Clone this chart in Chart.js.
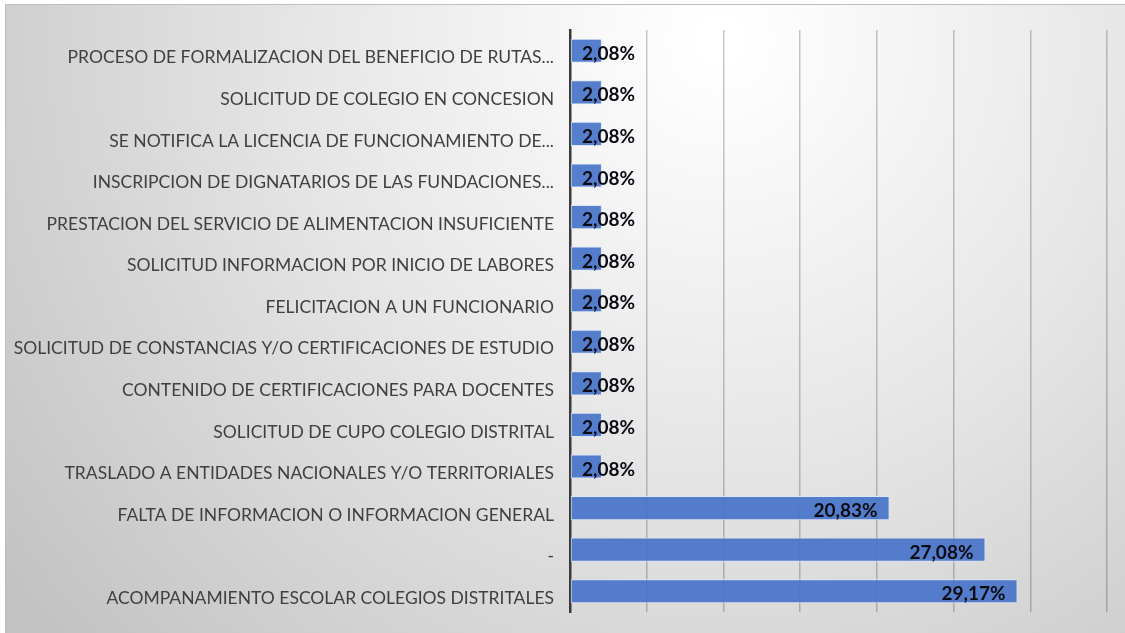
<!DOCTYPE html>
<html>
<head>
<meta charset="utf-8">
<script src="https://cdn.jsdelivr.net/npm/chart.js@4"></script>
<style>
  html, body { margin: 0; padding: 0; background: #ffffff; }
  #wrap { width: 1125px; height: 633px; position: relative; }
</style>
</head>
<body>
<div id="wrap"><canvas id="chart" width="1125" height="633"></canvas></div>
<script>
// categories top to bottom, as in the picture
const categories = [
    "PROCESO DE FORMALIZACION DEL BENEFICIO DE RUTAS...",
    "SOLICITUD DE COLEGIO EN CONCESION",
    "SE NOTIFICA LA LICENCIA DE FUNCIONAMIENTO DE...",
    "INSCRIPCION DE DIGNATARIOS DE LAS FUNDACIONES...",
    "PRESTACION DEL SERVICIO DE ALIMENTACION INSUFICIENTE",
    "SOLICITUD INFORMACION POR INICIO DE LABORES",
    "FELICITACION A UN FUNCIONARIO",
    "SOLICITUD DE CONSTANCIAS Y/O CERTIFICACIONES DE ESTUDIO",
    "CONTENIDO DE CERTIFICACIONES PARA DOCENTES",
    "SOLICITUD DE CUPO COLEGIO DISTRITAL",
    "TRASLADO A ENTIDADES NACIONALES Y/O TERRITORIALES",
    "FALTA DE INFORMACION O INFORMACION GENERAL",
    "-",
    "ACOMPANAMIENTO ESCOLAR COLEGIOS DISTRITALES"
];

const percentages = [
    2.08, 2.08, 2.08, 2.08, 2.08, 2.08, 2.08,
    2.08, 2.08, 2.08, 2.08, 20.83, 27.08, 29.17
];

const xMax = 35;
const xStep = 5;

const fmt = v => v.toFixed(2).replace(".", ",") + "%";

// gray radial background with a thin frame
const backgroundPlugin = {
    id: "bg",
    beforeDraw(chart) {
        const ctx = chart.ctx;
        ctx.save();
        ctx.fillStyle = "#ffffff";
        ctx.fillRect(0, 0, chart.width, chart.height);
        const g = ctx.createRadialGradient(720, 40, 20, 720, 40, 900);
        g.addColorStop(0, "#ffffff");
        g.addColorStop(0.45, "#e6e6e6");
        g.addColorStop(1, "#c2c2c2");
        ctx.fillStyle = g;
        ctx.fillRect(5, 4, chart.width - 5, chart.height - 4);
        ctx.strokeStyle = "#bdbdbd";
        ctx.lineWidth = 1;
        ctx.beginPath();
        ctx.moveTo(5.5, chart.height);
        ctx.lineTo(5.5, 4.5);
        ctx.lineTo(chart.width, 4.5);
        ctx.stroke();
        ctx.restore();
    }
};

// value labels: inside the end of the bar, pushed right when the bar is too short
const valueLabelPlugin = {
    id: "valueLabels",
    afterDatasetsDraw(chart) {
        const ctx = chart.ctx;
        const meta = chart.getDatasetMeta(0);
        const axisX = chart.scales.x.getPixelForValue(0);
        ctx.save();
        ctx.font = "bold 19px Lato";
        ctx.fillStyle = "#0b0b14";
        ctx.textBaseline = "middle";
        meta.data.forEach((bar, i) => {
            const txt = fmt(percentages[i]);
            const w = ctx.measureText(txt).width;
            let left = bar.x - 12 - w;
            if (left < axisX + 12) left = axisX + 12;
            ctx.textAlign = "left";
            ctx.fillText(txt, left, bar.y + 3);
        });
        ctx.restore();
    }
};

new Chart(document.getElementById("chart"), {
    type: "bar",
    data: {
        labels: categories,
        datasets: [{
            data: percentages,
            backgroundColor: "rgba(72, 117, 200, 0.93)",
            borderColor: "#dbe6f6",
            borderWidth: 1,
            borderSkipped: false,
            categoryPercentage: 1,
            barPercentage: 0.58
        }]
    },
    options: {
        indexAxis: "y",
        responsive: false,
        animation: false,
        layout: { padding: { top: 30, bottom: 21, right: 18, left: 0 } },
        plugins: {
            legend: { display: false },
            tooltip: { enabled: false }
        },
        scales: {
            x: {
                min: 0,
                max: xMax,
                afterFit(scale) { scale.height = 0; },
                ticks: { display: false, stepSize: xStep },
                grid: {
                    color: "rgba(0,0,0,0.22)",
                    lineWidth: 1.5,
                    drawTicks: false
                },
                border: { display: false }
            },
            y: {
                afterFit(scale) {
                    scale.width = 570;
                    scale.paddingTop = 0;
                    scale.paddingBottom = 0;
                },
                ticks: {
                    color: "#404040",
                    font: { family: "Lato", size: 17.5 },
                    padding: 16,
                    labelOffset: 7,
                    autoSkip: false
                },
                grid: { display: false, drawTicks: false },
                border: { display: true, color: "#3a3a3a", width: 2.5 }
            }
        }
    },
    plugins: [backgroundPlugin, valueLabelPlugin]
});
</script>
</body>
</html>
